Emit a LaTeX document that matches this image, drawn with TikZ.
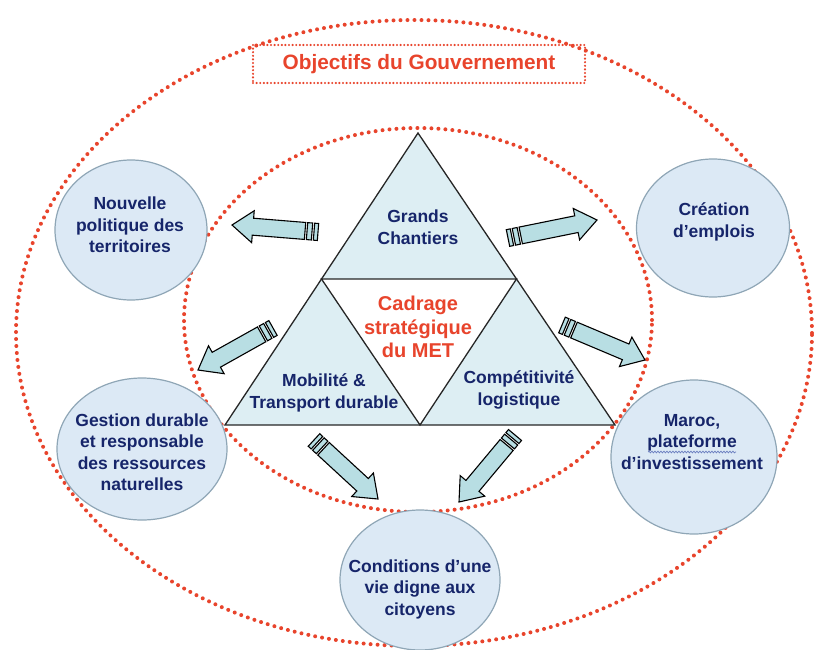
\documentclass[tikz,border=0pt]{standalone}
\usepackage{fontspec}
\setmainfont{Liberation Sans}
\usetikzlibrary{calc,shapes.geometric,decorations.pathmorphing}
\definecolor{navy}{HTML}{16256A}
\definecolor{redor}{HTML}{E8442C}
\definecolor{circfill}{HTML}{DCE9F5}
\definecolor{circline}{HTML}{8FA6B6}
\definecolor{trifill}{HTML}{DDEEF3}
\definecolor{arrfill}{HTML}{B8DEE3}
\definecolor{squig}{HTML}{6B7FC0}

% striped block arrow from tail #1 to tip #2
\newcommand\stripedarrow[2]{%
  \filldraw[arrowbody]
    ($(#1)!0pt!(#2)!8.5pt!90:(#2)$) -- ($(#1)!4pt!(#2)!8.5pt!90:(#2)$) --
    ($(#1)!4pt!(#2)!8.5pt!-90:(#2)$) -- ($(#1)!0pt!(#2)!8.5pt!-90:(#2)$) -- cycle;
  \filldraw[arrowbody]
    ($(#1)!6pt!(#2)!8.5pt!90:(#2)$) -- ($(#1)!11pt!(#2)!8.5pt!90:(#2)$) --
    ($(#1)!11pt!(#2)!8.5pt!-90:(#2)$) -- ($(#1)!6pt!(#2)!8.5pt!-90:(#2)$) -- cycle;
  \filldraw[arrowbody]
    ($(#1)!13pt!(#2)!8.5pt!90:(#2)$) --
    ($(#2)!21pt!(#1)!8.5pt!-90:(#1)$) --
    ($(#2)!21pt!(#1)!16pt!-90:(#1)$) --
    (#2) --
    ($(#2)!21pt!(#1)!16pt!90:(#1)$) --
    ($(#2)!21pt!(#1)!8.5pt!90:(#1)$) --
    ($(#1)!13pt!(#2)!8.5pt!-90:(#2)$) -- cycle;
}

\begin{document}
\begin{tikzpicture}[x=1pt,y=-1pt,
  reddots/.style={draw=redor, line width=4pt, line cap=round, dash pattern=on 0pt off 7pt},
  goal/.style={ellipse, draw=circline, line width=1.2pt, fill=circfill, inner sep=0pt},
  goaltext/.style={align=center, font=\fontsize{17.5}{21.5}\selectfont\bfseries, text=navy},
  centertext/.style={align=center, font=\fontsize{20}{23.5}\selectfont\bfseries, text=redor},
  titlebox/.style={draw=redor, line width=2.4pt, line cap=round, dash pattern=on 0pt off 3.6pt,
    minimum width=332pt, minimum height=38pt, font=\fontsize{20.8}{24}\selectfont\bfseries, text=redor},
  arrowbody/.style={fill=arrfill, draw=black, line width=1.1pt, line join=miter},
  triline/.style={draw=black!85, line width=1.3pt, line join=miter},
]
\useasboundingbox (0,0) rectangle (816,650);

% ellipses
\draw[reddots] (414,333) ellipse [x radius=398pt, y radius=313pt];
\draw[reddots] (418,320) ellipse [x radius=234pt, y radius=192pt];

% title
\node[titlebox] (title) at (419,64) {Objectifs du Gouvernement};

% triangle
\coordinate (apex) at (418,133);
\coordinate (bl) at (225,425);
\coordinate (br) at (615,425);
\coordinate (ml) at ($(apex)!0.5!(bl)$);
\coordinate (mr) at ($(apex)!0.5!(br)$);
\coordinate (mb) at ($(bl)!0.5!(br)$);
\filldraw[triline, fill=trifill] (apex) -- (bl) -- (br) -- cycle;
\filldraw[triline, fill=white] (ml) -- (mr) -- (mb) -- cycle;

\node[goaltext] (gc) at (418,227) {Grands\\Chantiers};
\node[centertext] (cad) at (418,327) {Cadrage\\strat\'egique\\du MET};
\node[goaltext] (mob) at (324,393) {Mobilit\'e \&\\Transport durable};
\node[goaltext] (comp) at (519,390) {Comp\'etitivit\'e\\logistique};

% goal circles
\node[goal, minimum width=152pt, minimum height=140pt] (c1) at (131,230) {};
\node[goaltext] (t1) at (130,225) {Nouvelle\\politique des\\territoires};
\node[goal, minimum width=153pt, minimum height=138pt] (c2) at (713,228) {};
\node[goaltext] (t2) at (714,222) {Cr\'eation\\d’emplois};
\node[goal, minimum width=170pt, minimum height=142pt] (c3) at (142,449) {};
\node[goaltext] (t3) at (142,452) {Gestion durable\\et responsable\\des ressources\\naturelles};
\node[goal, minimum width=166pt, minimum height=154pt] (c4) at (694,457) {};
\node[goaltext] (t4) at (692,442) {Maroc,\\plateforme\\d’investissement};
\node[goal, minimum width=160pt, minimum height=140pt] (c5) at (420,580) {};
\node[goaltext] (t5) at (420,589) {Conditions d’une\\vie digne aux\\citoyens};

\coordinate (sq1) at (648,452);
\coordinate (sq2) at (736,452);
\draw[squig, line width=0.7pt, decorate, decoration={snake, amplitude=0.9pt, segment length=3pt}] (sq1) -- (sq2);

% arrows (tail, tip)
\coordinate (a1t) at (318,232); \coordinate (a1h) at (232,225);
\coordinate (a2t) at (508,238); \coordinate (a2h) at (597,220);
\coordinate (a3t) at (273,328); \coordinate (a3h) at (198,370);
\coordinate (a4t) at (562,325); \coordinate (a4h) at (645,360);
\coordinate (a5t) at (314,440); \coordinate (a5h) at (378,499);
\coordinate (a6t) at (515,435); \coordinate (a6h) at (459,502);
\stripedarrow{a1t}{a1h}
\stripedarrow{a2t}{a2h}
\stripedarrow{a3t}{a3h}
\stripedarrow{a4t}{a4h}
\stripedarrow{a5t}{a5h}
\stripedarrow{a6t}{a6h}
\end{tikzpicture}
\end{document}
